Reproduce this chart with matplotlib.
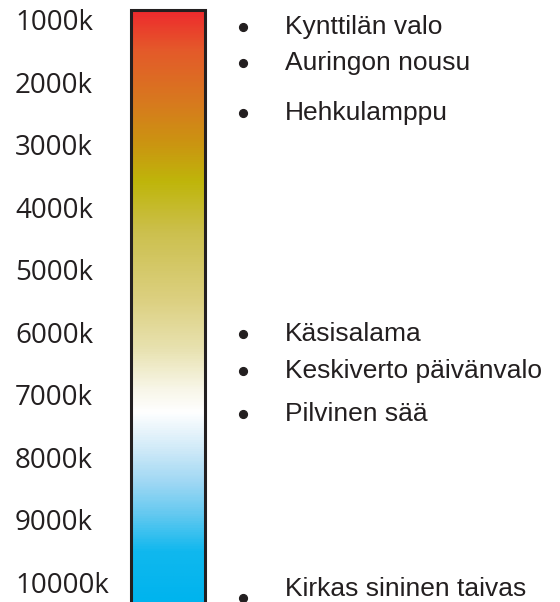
import matplotlib
matplotlib.use("Agg")
import matplotlib.pyplot as plt
import numpy as np
from matplotlib.colors import LinearSegmentedColormap

# asteikon merkinnät (kelvin)
tick_values = [1000, 2000, 3000, 4000, 5000, 6000, 7000, 8000, 9000, 10000]
tick_labels = ["1000k", "2000k", "3000k", "4000k", "5000k",
               "6000k", "7000k", "8000k", "9000k", "10000k"]

# valonlähteet, luettelomerkin ja tekstin sijainti (kelvin)
source_names = ["Kynttilän valo", "Auringon nousu", "Hehkulamppu",
                "Käsisalama", "Keskiverto päivänvalo", "Pilvinen sää",
                "Kirkas sininen taivas"]
source_kelvin = [1110, 1690, 2490, 6030, 6620, 7310, 10250]
label_kelvin = [1110, 1690, 2490, 6030, 6620, 7310, 10110]

# värigradientin pisteet
stop_kelvin = [840, 1480, 2280, 2920, 3590, 4410, 5480, 6280, 6920,
               7290, 7890, 8410, 8960, 9530, 10320]
stop_colors = ["#EE2A2E", "#E45A2A", "#D8781F", "#CC9212", "#BFB50A",
               "#CCC04E", "#DCD080", "#E8E2B0", "#F8F6E8", "#FFFFFF",
               "#D0EAF8", "#A0D8F4", "#60C8F0", "#10B8EE", "#00B4EE"]

fig = plt.figure(figsize=(5.6, 6.02), dpi=100)
ax = fig.add_axes([0, 0, 1, 1])
ax.set_xlim(0, 560)
ax.set_ylim(10318, 680)
ax.axis("off")

# gradienttipalkki
k_lo, k_hi = stop_kelvin[0], stop_kelvin[-1]
pos = [(k - k_lo) / (k_hi - k_lo) for k in stop_kelvin]
cmap = LinearSegmentedColormap.from_list("kelvin", list(zip(pos, stop_colors)))
grad = np.linspace(0, 1, 600).reshape(-1, 1)
ax.imshow(grad, cmap=cmap, aspect="auto", extent=[131, 205, k_hi, k_lo],
          interpolation="bilinear", zorder=1)
ax.plot([131, 131, 205, 205], [k_hi + 200, k_lo, k_lo, k_hi + 200],
        color="#231F20", lw=2.2, zorder=2, solid_joinstyle="miter")

# vasemman puolen asteikko
for v, lab in zip(tick_values, tick_labels):
    ax.text(15, v, lab, ha="left", va="center_baseline", fontsize=20,
            family="Open Sans", color="#231F20")

# oikean puolen luettelo
ax.plot([243] * len(source_kelvin), source_kelvin, "o", ms=5.6,
        color="#231F20", zorder=3)
for name, k in zip(source_names, label_kelvin):
    ax.text(285, k, name, ha="left", va="center", fontsize=19,
            family="Liberation Sans", color="#231F20")

fig.savefig("out.png", dpi=100)
